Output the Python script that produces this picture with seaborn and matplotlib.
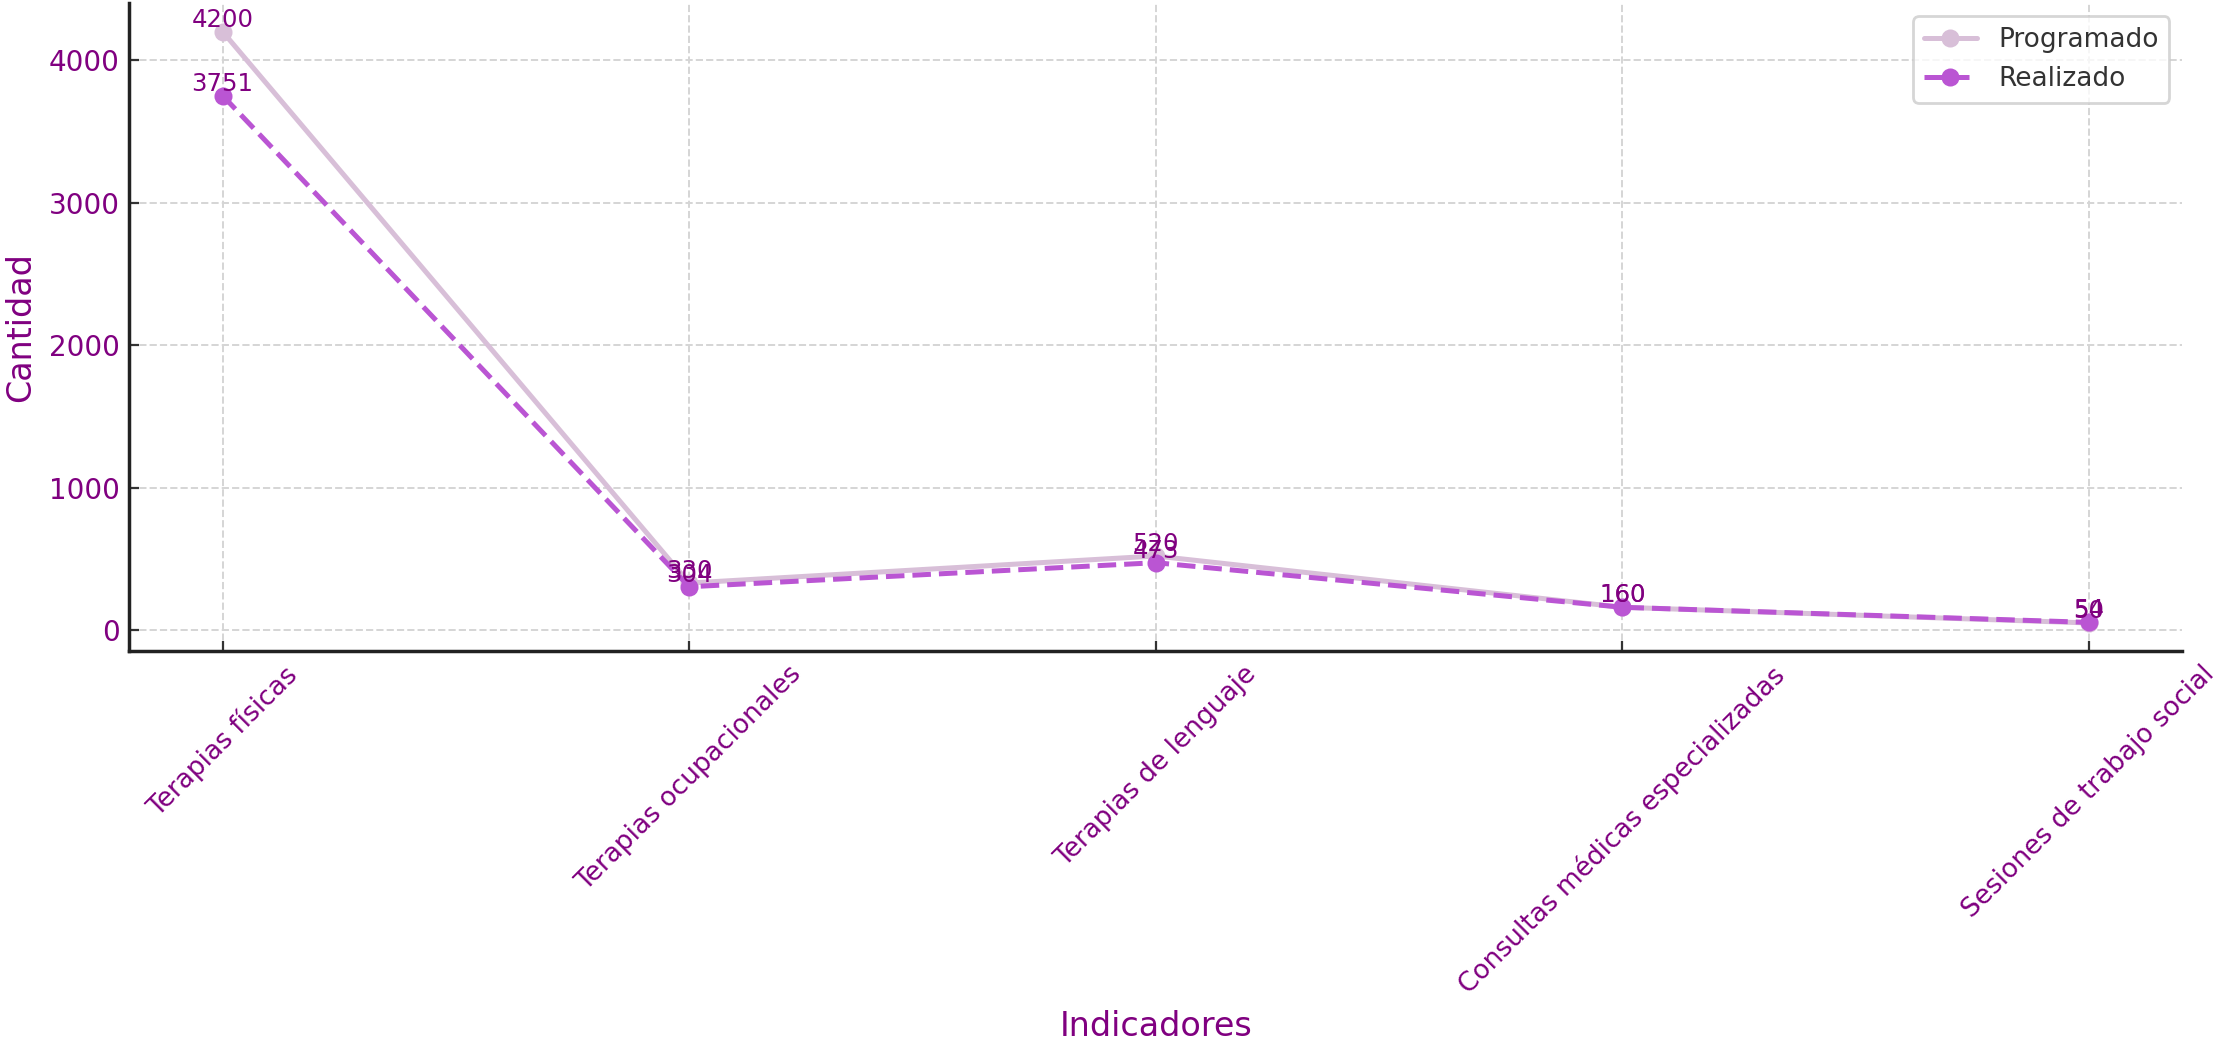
import matplotlib
matplotlib.use("Agg")
import matplotlib.pyplot as plt
import seaborn as sns
import pandas as pd

# datos
indicadores = ["Terapias físicas", "Terapias ocupacionales", "Terapias de lenguaje",
               "Consultas médicas especializadas", "Sesiones de trabajo social"]
programado = [4200, 330, 520, 160, 50]
realizado = [3751, 304, 473, 160, 54]

sns.set_theme(style="ticks")
plt.rcParams['font.family'] = ['DejaVu Sans']

df = pd.DataFrame({"Indicadores": indicadores, "Programado": programado, "Realizado": realizado})

fig, ax = plt.subplots(figsize=(11.145, 5.22), dpi=200)
fig.subplots_adjust(left=0.058, right=0.979, top=0.997, bottom=0.376)

sns.lineplot(data=df, x="Indicadores", y="Programado", marker="o", color="thistle",
             linewidth=1.8, markersize=6.5, markeredgewidth=0, label="Programado", ax=ax, sort=False)
sns.lineplot(data=df, x="Indicadores", y="Realizado", marker="o", color="mediumorchid",
             linewidth=1.8, markersize=6.5, markeredgewidth=0, linestyle="--",
             label="Realizado", ax=ax, sort=False)

for i, (p, r) in enumerate(zip(programado, realizado)):
    ax.text(i, p, f"{p}", ha="center", va="bottom", fontsize=8.8, color="purple")
    ax.text(i, r, f"{r}", ha="center", va="bottom", fontsize=8.8, color="purple")

ax.set_ylim(-150, 4400)
ax.set_xlim(-0.2, 4.2)
ax.set_xlabel("Indicadores", fontsize=12, color="purple")
ax.set_ylabel("Cantidad", fontsize=12, color="purple")
ax.tick_params(axis="both", direction="in", length=3.5, width=0.8, pad=3.5, color="#333333")
ax.tick_params(axis="x", labelrotation=45, labelsize=9.5, labelcolor="purple")
ax.tick_params(axis="y", labelsize=10, labelcolor="purple")
ax.grid(True, linestyle="--", color="#d5d5d5", linewidth=0.7)
sns.despine(ax=ax)
for s in ["left", "bottom"]:
    ax.spines[s].set_color("#222222")

leg = ax.legend(loc="upper right", fontsize=9.5)
for t in leg.get_texts():
    t.set_color("#333333")

fig.savefig("out.png", dpi=200)
